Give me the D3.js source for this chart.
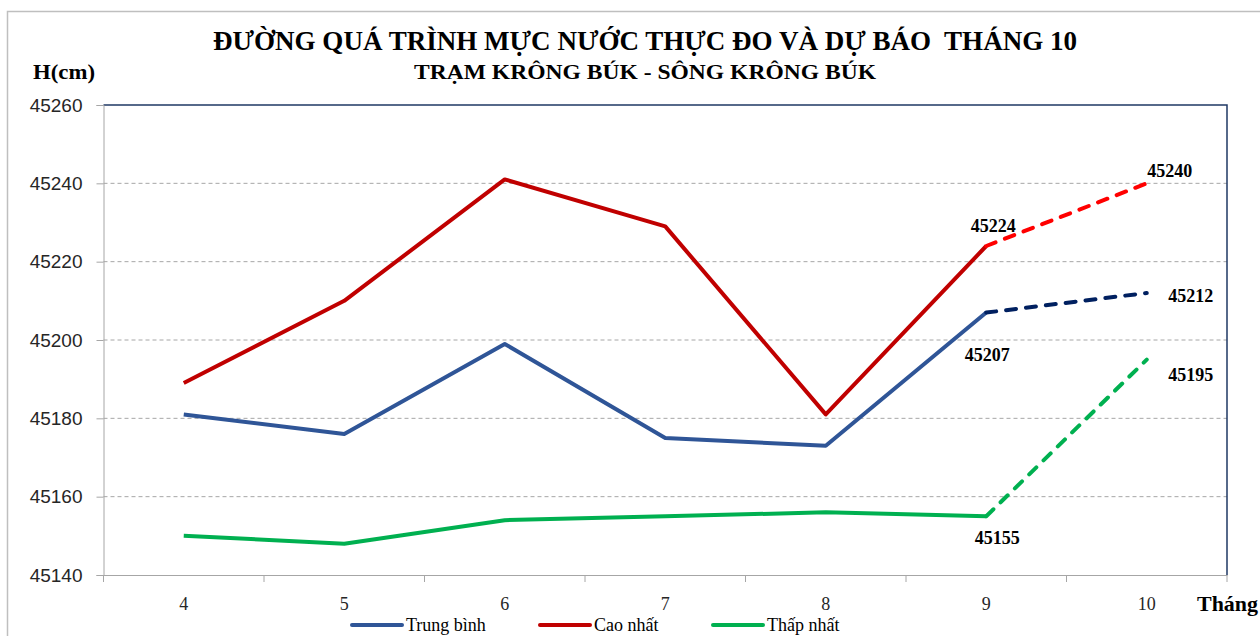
<!DOCTYPE html>
<html><head><meta charset="utf-8">
<script src="https://cdn.jsdelivr.net/npm/d3@7"></script>
<style>body{margin:0;background:#fff}svg{display:block}</style>
</head><body><svg id="c" width="1260" height="636"></svg>
<script>
const months = [4, 5, 6, 7, 8, 9, 10];
const yTicks = [45140, 45160, 45180, 45200, 45220, 45240, 45260];
const avgObs = [45181, 45176, 45199, 45175, 45173, 45207];
const maxObs = [45189, 45210, 45241, 45229, 45181, 45224];
const minObs = [45150, 45148, 45154, 45155, 45156, 45155];
const fcMonths = [9, 10];
const avgFc = [45207, 45212];
const maxFc = [45224, 45240];
const minFc = [45155, 45195];
const seriesNames = ["Trung bình", "Cao nhất", "Thấp nhất"];
const titleText = "ĐƯỜNG QUÁ TRÌNH MỰC NƯỚC THỰC ĐO VÀ DỰ BÁO  THÁNG 10";
const subtitleText = "TRẠM KRÔNG BÚK - SÔNG KRÔNG BÚK";

const svg = d3.select("#c");
const L = 103.5, R = 1227, T = 105, B = 575;
const x = d3.scaleBand().domain(months).range([L, R]).padding(0);
const cx = m => x(m) + x.bandwidth() / 2;
const y = d3.scaleLinear().domain([45140, 45260]).range([B, T]);
const serif = "'Liberation Serif','Times New Roman',serif";
const sans = "'Liberation Sans',Arial,sans-serif";

// outer frame
svg.append("rect").attr("x", 7.5).attr("y", 11.5).attr("width", 1300).attr("height", 700)
  .attr("fill", "none").attr("stroke", "#BFBFBF").attr("stroke-width", 1.5);

// titles
svg.append("text").attr("x", 645).attr("y", 50).attr("text-anchor", "middle")
  .style("white-space", "pre")
  .attr("font-family", serif).attr("font-weight", "bold").attr("font-size", 28)
  .attr("textLength", 864).attr("lengthAdjust", "spacingAndGlyphs").text(titleText);
svg.append("text").attr("x", 645).attr("y", 79).attr("text-anchor", "middle")
  .attr("font-family", serif).attr("font-weight", "bold").attr("font-size", 22)
  .attr("textLength", 462).attr("lengthAdjust", "spacingAndGlyphs").text(subtitleText);
svg.append("text").attr("x", 33).attr("y", 79)
  .attr("font-family", serif).attr("font-weight", "bold").attr("font-size", 21)
  .attr("textLength", 62).attr("lengthAdjust", "spacingAndGlyphs").text("H(cm)");
svg.append("text").attr("x", 1197).attr("y", 611)
  .attr("font-family", serif).attr("font-weight", "bold").attr("font-size", 21)
  .attr("textLength", 61).attr("lengthAdjust", "spacingAndGlyphs").text("Tháng");

// gridlines
svg.append("g").selectAll("line").data(yTicks.filter(v => v !== 45140 && v !== 45260)).join("line")
  .attr("x1", L).attr("x2", R).attr("y1", d => y(d)).attr("y2", d => y(d))
  .attr("stroke", "#A6A6A6").attr("stroke-dasharray", "4,3").attr("stroke-width", 1);

// top/right border
svg.append("path").attr("d", `M${L},${T}H${R}V${B}`).attr("fill", "none")
  .attr("stroke", "#1F3864").attr("stroke-width", 1.5);

// y axis
const ya = svg.append("g").attr("transform", `translate(${L},0)`)
  .call(d3.axisLeft(y).tickValues(yTicks).tickSize(7).tickPadding(14).tickFormat(d3.format("d")));
ya.select(".domain").attr("stroke", "#A6A6A6");
ya.selectAll(".tick line").attr("stroke", "#A6A6A6");
ya.selectAll("text").attr("font-family", sans).attr("font-size", 19).attr("fill", "#262626");

// x axis
const xa = svg.append("g").attr("transform", `translate(0,${B})`)
  .call(d3.axisBottom(x).tickSize(0).tickPadding(22));
xa.select(".domain").attr("stroke", "#A6A6A6");
xa.selectAll("text").attr("font-family", serif).attr("font-size", 18).attr("fill", "#262626");
const bounds = months.map(m => x(m)).concat([R]);
svg.append("g").selectAll("line").data(bounds).join("line")
  .attr("x1", d => d).attr("x2", d => d).attr("y1", B).attr("y2", B + 7)
  .attr("stroke", "#A6A6A6");

const line = d3.line().x(d => cx(d[0])).y(d => y(d[1]));
const obsMonths = months.slice(0, 6);
const series = [
  {obs: avgObs, fc: avgFc, c1: "#2F5597", c2: "#002060"},
  {obs: maxObs, fc: maxFc, c1: "#C00000", c2: "#FF0000"},
  {obs: minObs, fc: minFc, c1: "#00B050", c2: "#00B050"}
];
series.forEach(s => {
  svg.append("path").attr("d", line(obsMonths.map((m, i) => [m, s.obs[i]])))
    .attr("fill", "none").attr("stroke", s.c1).attr("stroke-width", 4).attr("stroke-linejoin", "round");
  svg.append("path").attr("d", line(fcMonths.map((m, i) => [m, s.fc[i]])))
    .attr("fill", "none").attr("stroke", s.c2).attr("stroke-width", 4)
    .attr("stroke-dasharray", "10,10").attr("stroke-linecap", "round");
});

// data labels
const labels = [
  {m: 9, v: maxFc[0], dx: 7, dy: -14},
  {m: 10, v: maxFc[1], dx: 23, dy: -6},
  {m: 10, v: avgFc[1], dx: 44, dy: 9},
  {m: 9, v: avgFc[0], dx: 1, dy: 48},
  {m: 10, v: minFc[1], dx: 44, dy: 21},
  {m: 9, v: minFc[0], dx: 11, dy: 28}
];
svg.append("g").selectAll("text").data(labels).join("text")
  .attr("x", d => cx(d.m) + d.dx).attr("y", d => y(d.v) + d.dy).attr("text-anchor", "middle")
  .attr("font-family", serif).attr("font-weight", "bold").attr("font-size", 18)
  .text(d => d.v);

// legend
const legX = [352, 540, 713];
const lg = svg.append("g").selectAll("g").data(seriesNames).join("g")
  .attr("transform", (d, i) => `translate(${legX[i]},625)`);
lg.append("line").attr("x1", 0).attr("x2", 50).attr("stroke", (d, i) => series[i].c1)
  .attr("stroke-width", 4).attr("stroke-linecap", "round");
lg.append("text").attr("x", 54).attr("y", 6).attr("font-family", serif).attr("font-size", 18)
  .text(d => d);
</script></body></html>
